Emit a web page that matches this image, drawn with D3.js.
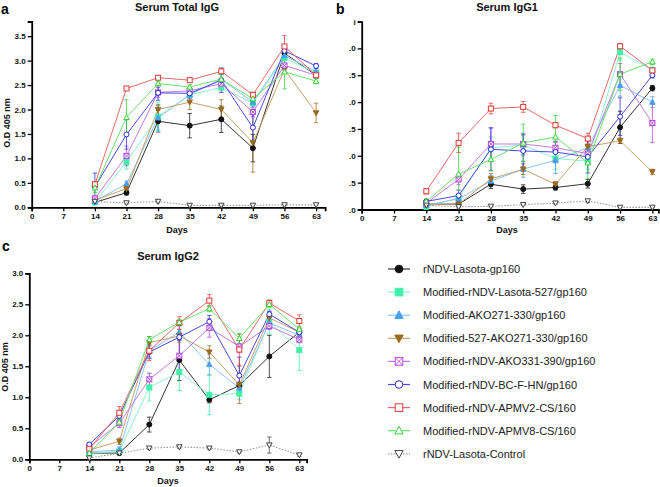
<!DOCTYPE html>
<html><head><meta charset="utf-8">
<script src="https://cdn.jsdelivr.net/npm/d3@7"></script>
<style>
html,body{margin:0;padding:0;background:#fff;}
svg{display:block;font-family:"Liberation Sans",Arial,sans-serif;}
</style></head>
<body><svg id="c" width="660" height="487"></svg>
<script>
const days = [14,21,28,35,42,49,56,63];
const xTicks = [0,7,14,21,28,35,42,49,56,63];
const seriesNames = [
 "rNDV-Lasota-gp160",
 "Modified-rNDV-Lasota-527/gp160",
 "Modified-AKO271-330/gp160",
 "Modified-527-AKO271-330/gp160",
 "Modified-rNDV-AKO331-390/gp160",
 "Modified-rNDV-BC-F-HN/gp160",
 "Modified-rNDV-APMV2-CS/160",
 "Modified-rNDV-APMV8-CS/160",
 "rNDV-Lasota-Control"
];
const markerColors = ["#111111","#3ff0a8","#4a9ff0","#9a6a1e","#b444e0","#2a2ad4","#e23a3a","#34d234","#444444"];
const lineColors   = ["#333333","#8ff2d0","#8cc4f4","#c8a06c","#c27ae8","#4a4ae0","#e86a6a","#6ee06e","#999999"];

// Panel a: Serum Total IgG
const totalIgG = [
 [0.10,0.30,1.76,1.67,1.80,1.21,3.15,2.70],
 [0.10,0.93,1.85,2.30,2.45,2.13,3.05,2.75],
 [0.12,0.48,1.83,2.30,2.62,2.15,3.10,2.78],
 [0.15,0.38,2.00,2.15,2.00,1.32,2.82,1.93],
 [0.18,1.05,2.35,2.38,2.53,1.95,2.90,2.70],
 [0.42,1.49,2.34,2.33,2.60,1.63,3.20,2.89],
 [0.47,2.43,2.65,2.60,2.78,2.30,3.29,2.70],
 [0.40,1.84,2.53,2.46,2.62,2.22,2.77,2.58],
 [0.12,0.09,0.12,0.04,0.04,0.04,0.05,0.05]
];
const totalIgGErr = [
 [0.03,0.05,0.22,0.25,0.27,0.28,0.08,0.05],
 [0.03,0.15,0.30,0.05,0.05,0.10,0.10,0.05],
 [0.03,0.06,0.25,0.05,0.10,0.08,0.10,0.05],
 [0.03,0.08,0.10,0.15,0.20,0.60,0.08,0.20],
 [0.05,0.20,0.10,0.05,0.10,0.10,0.10,0.05],
 [0.28,0.30,0.15,0.10,0.25,0.30,0.07,0.05],
 [0.05,0.03,0.03,0.03,0.05,0.05,0.22,0.05],
 [0.10,0.36,0.05,0.05,0.10,0.05,0.35,0.05],
 [0.02,0.02,0.03,0.01,0.01,0.01,0.02,0.01]
];
// Panel b: Serum IgG1
const igG1 = [
 [0.10,0.10,0.47,0.38,0.41,0.48,1.53,2.26],
 [0.05,0.22,1.15,1.20,0.95,0.90,2.93,2.60],
 [0.08,0.20,0.53,0.75,0.92,1.15,2.31,2.00],
 [0.10,0.10,0.57,0.75,0.47,1.17,1.28,0.70],
 [0.12,0.56,1.22,1.22,1.15,1.04,2.52,1.61],
 [0.15,0.26,1.12,1.09,1.07,0.98,1.73,2.50],
 [0.34,1.24,1.88,1.91,1.57,1.32,3.04,2.59],
 [0.15,0.66,0.93,1.24,1.35,0.87,2.52,2.75],
 [0.08,0.05,0.06,0.09,0.12,0.16,0.04,0.04]
];
const igG1Err = [
 [0.02,0.03,0.08,0.08,0.05,0.08,0.30,0.05],
 [0.03,0.05,0.20,0.20,0.20,0.15,0.15,0.05],
 [0.03,0.05,0.10,0.15,0.25,0.15,0.20,0.10],
 [0.03,0.03,0.10,0.10,0.05,0.15,0.05,0.05],
 [0.03,0.10,0.30,0.20,0.10,0.10,0.20,0.36],
 [0.03,0.10,0.40,0.30,0.20,0.30,0.35,0.05],
 [0.05,0.18,0.10,0.10,0.05,0.10,0.05,0.05],
 [0.05,0.50,0.20,0.35,0.40,0.30,0.30,0.05],
 [0.01,0.02,0.01,0.01,0.02,0.03,0.01,0.01]
];
const igG1YLabels = [".0",".5",".0",".5",".0",".5",".0","i"];
// Panel c: Serum IgG2
const igG2 = [
 [0.10,0.10,0.56,1.60,0.96,1.19,1.66,2.05],
 [0.10,0.13,1.16,1.41,1.04,1.06,2.22,1.76],
 [0.12,0.15,1.75,2.05,1.53,1.15,2.20,2.00],
 [0.15,0.29,1.88,1.99,1.73,1.20,2.28,2.05],
 [0.20,0.58,1.29,1.67,2.12,1.82,2.15,1.93],
 [0.24,0.70,1.73,1.97,2.22,1.35,2.34,2.05],
 [0.17,0.75,1.75,2.20,2.56,1.77,2.52,2.23],
 [0.10,0.60,1.93,2.21,2.43,1.95,2.50,2.10],
 [0.02,0.10,0.18,0.20,0.18,0.12,0.23,0.07]
];
const igG2Err = [
 [0.02,0.03,0.12,0.33,0.05,0.05,0.34,0.05],
 [0.03,0.05,0.22,0.30,0.32,0.10,0.20,0.33],
 [0.03,0.05,0.10,0.10,0.17,0.10,0.10,0.05],
 [0.03,0.05,0.10,0.10,0.10,0.30,0.10,0.05],
 [0.03,0.07,0.10,0.30,0.15,0.10,0.05,0.05],
 [0.02,0.05,0.10,0.05,0.10,0.30,0.05,0.05],
 [0.05,0.10,0.16,0.10,0.10,0.25,0.05,0.10],
 [0.03,0.05,0.05,0.05,0.05,0.08,0.05,0.05],
 [0.02,0.02,0.02,0.02,0.02,0.02,0.13,0.02]
];

const svg = d3.select("#c");

function drawMarker(g, type, h, col) {
  const filled = type <= 3;
  const fill = filled ? col : "#fff";
  const sw = 1;
  if (type === 0 || type === 5) {
    g.append("circle").attr("r", h).attr("fill", fill).attr("stroke", col).attr("stroke-width", sw);
  } else if (type === 1 || type === 6 || type === 4) {
    g.append("rect").attr("x",-h).attr("y",-h).attr("width",2*h).attr("height",2*h)
      .attr("fill", fill).attr("stroke", col).attr("stroke-width", sw);
    if (type === 4) {
      g.append("path").attr("d", `M${-h},${-h}L${h},${h}M${h},${-h}L${-h},${h}`)
        .attr("stroke", col).attr("stroke-width", 0.9).attr("fill","none");
    }
  } else if (type === 2 || type === 7) {
    g.append("path").attr("d", `M0,${-h*1.15}L${h*1.1},${h*0.85}L${-h*1.1},${h*0.85}Z`)
      .attr("fill", fill).attr("stroke", col).attr("stroke-width", sw);
  } else {
    g.append("path").attr("d", `M0,${h*1.15}L${h*1.1},${-h*0.85}L${-h*1.1},${-h*0.85}Z`)
      .attr("fill", fill).attr("stroke", col).attr("stroke-width", sw);
  }
}

function drawPanel(p, vals, errs, yTickVals, yFmt) {
  const x = d3.scaleLinear().domain([0, p.xMax]).range([p.x0, p.x0 + p.xMax * p.pxDay]);
  const y = d3.scaleLinear().domain([0, p.yMax]).range([p.y0, p.y0 - p.yMax * p.pxUnit]);
  const g = svg.append("g");
  const xa = g.append("g").attr("transform", `translate(0,${p.y0})`)
    .call(d3.axisBottom(x).tickValues(xTicks).tickSize(4).tickPadding(2).tickFormat(d3.format("d")));
  const ya = g.append("g").attr("transform", `translate(${p.x0},0)`)
    .call(d3.axisLeft(y).tickValues(yTickVals).tickSize(4).tickPadding(2).tickFormat(yFmt));
  [xa, ya].forEach(a => {
    a.select(".domain").attr("stroke", "#000").attr("stroke-width", 1.8);
    a.selectAll(".tick line").attr("stroke", "#000").attr("stroke-width", 1.3);
    a.selectAll(".tick text").attr("fill", "#111").attr("font-size", 8).attr("font-weight", "bold")
      .attr("font-family", '"Liberation Sans",Arial,sans-serif');
  });
  const line = d3.line().x((d, i) => x(days[i])).y(d => y(d));
  vals.forEach((s, k) => {
    const sg = g.append("g");
    sg.append("path").attr("d", line(s)).attr("fill", "none")
      .attr("stroke", lineColors[k]).attr("stroke-width", k === 8 ? 1.1 : 1)
      .attr("stroke-dasharray", k === 8 ? "1.5,1.5" : null);
    s.forEach((v, i) => {
      const e = errs[k][i];
      const cx = x(days[i]);
      sg.append("path")
        .attr("d", `M${cx},${y(v + e)}V${y(Math.max(0, v - e))}M${cx - 2.2},${y(v + e)}H${cx + 2.2}M${cx - 2.2},${y(Math.max(0, v - e))}H${cx + 2.2}`)
        .attr("stroke", markerColors[k]).attr("stroke-opacity", 0.75).attr("stroke-width", 1).attr("fill", "none");
    });
  });
  vals.forEach((s, k) => {
    s.forEach((v, i) => {
      const mg = g.append("g").attr("transform", `translate(${x(days[i])},${y(v)})`);
      drawMarker(mg, k, 2.5, markerColors[k]);
    });
  });
  g.append("text").attr("x", p.titleX).attr("y", p.titleY).attr("text-anchor", "middle")
    .attr("font-size", 11).attr("font-weight", "bold").attr("fill", "#111").text(p.title);
  g.append("text").attr("x", p.letterX).attr("y", p.letterY)
    .attr("font-size", 14).attr("font-weight", "bold").attr("fill", "#000").text(p.letter);
  g.append("text").attr("x", p.titleX).attr("y", p.daysY).attr("text-anchor", "middle")
    .attr("font-size", 9).attr("font-weight", "bold").attr("fill", "#111").text("Days");
  if (p.yLabelX != null) {
    g.append("text").attr("transform", `translate(${p.yLabelX},${p.yLabelY}) rotate(-90)`)
      .attr("text-anchor", "middle").attr("font-size", 9).attr("font-weight", "bold")
      .attr("fill", "#111").text("O.D 405 nm");
  }
}

drawPanel({x0: 31.7, y0: 207.3, pxDay: 4.514, pxUnit: 48.9, xMax: 65, yMax: 3.8,
  title: "Serum Total IgG", titleX: 177, titleY: 11, letter: "a", letterX: 1, letterY: 14,
  daysY: 233, yLabelX: 10, yLabelY: 123},
  totalIgG, totalIgGErr, [0,0.5,1,1.5,2,2.5,3,3.5], d3.format(".1f"));

drawPanel({x0: 361.7, y0: 209.5, pxDay: 4.614, pxUnit: 53.7, xMax: 64.3, yMax: 3.5,
  title: "Serum IgG1", titleX: 507, titleY: 11, letter: "b", letterX: 336, letterY: 14,
  daysY: 233, yLabelX: null},
  igG1, igG1Err, [0,0.5,1,1.5,2,2.5,3,3.5], (d, i) => igG1YLabels[i]);

drawPanel({x0: 29.3, y0: 459.3, pxDay: 4.286, pxUnit: 62, xMax: 64.7, yMax: 3.0,
  title: "Serum IgG2", titleX: 168, titleY: 260, letter: "c", letterX: 2, letterY: 251,
  daysY: 484, yLabelX: 8, yLabelY: 367},
  igG2, igG2Err, [0,0.5,1,1.5,2,2.5,3], d3.format(".1f"));

const lg = svg.append("g");
seriesNames.forEach((n, k) => {
  const yy = 269 + k * 23.1;
  const row = lg.append("g").attr("transform", `translate(0,${yy})`);
  row.append("line").attr("x1", 388).attr("x2", 410).attr("y1", 0).attr("y2", 0)
    .attr("stroke", lineColors[k]).attr("stroke-width", 1.2)
    .attr("stroke-dasharray", k === 8 ? "1.5,1.5" : null);
  const mg = row.append("g").attr("transform", "translate(399,0)");
  drawMarker(mg, k, 3.8, markerColors[k]);
  row.append("text").attr("x", 423).attr("y", 4).attr("font-size", 11).attr("fill", "#222").text(n);
});
</script></body></html>
